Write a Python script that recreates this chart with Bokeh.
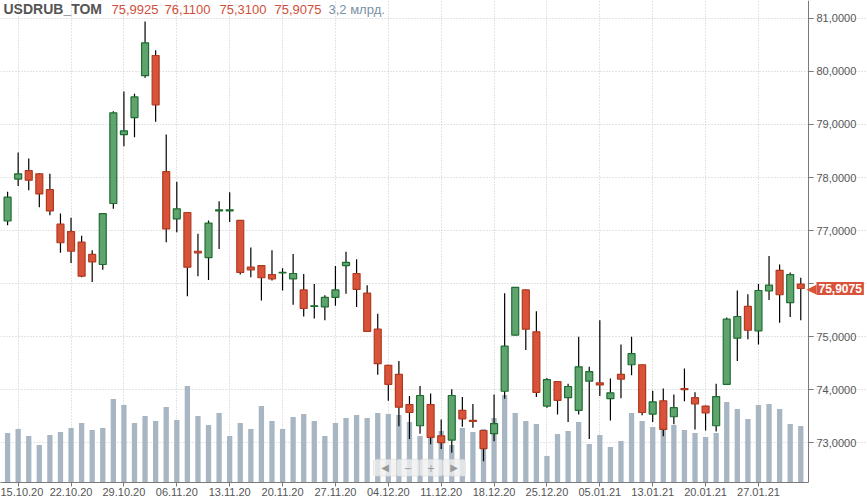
from bokeh.plotting import figure
from bokeh.models import (FixedTicker, Range1d, ColumnDataSource, Label,
                          BoxAnnotation)
from bokeh.embed import file_html
from bokeh.resources import INLINE

# ---------------- data ----------------
dates = ["14.10.20", "15.10.20", "16.10.20", "19.10.20", "20.10.20", "21.10.20",
         "22.10.20", "23.10.20", "26.10.20", "27.10.20", "28.10.20", "29.10.20",
         "30.10.20", "02.11.20", "03.11.20", "05.11.20", "06.11.20", "09.11.20",
         "10.11.20", "11.11.20", "12.11.20", "13.11.20", "16.11.20", "17.11.20",
         "18.11.20", "19.11.20", "20.11.20", "23.11.20", "24.11.20", "25.11.20",
         "26.11.20", "27.11.20", "30.11.20", "01.12.20", "02.12.20", "03.12.20",
         "04.12.20", "07.12.20", "08.12.20", "09.12.20", "10.12.20", "11.12.20",
         "14.12.20", "15.12.20", "16.12.20", "17.12.20", "18.12.20", "21.12.20",
         "22.12.20", "23.12.20", "24.12.20", "25.12.20", "28.12.20", "29.12.20",
         "30.12.20", "04.01.21", "05.01.21", "06.01.21", "08.01.21", "11.01.21",
         "12.01.21", "13.01.21", "14.01.21", "15.01.21", "18.01.21", "19.01.21",
         "20.01.21", "21.01.21", "22.01.21", "25.01.21", "26.01.21", "27.01.21",
         "28.01.21", "29.01.21", "01.02.21", "02.02.21"]

opens = [77.18, 77.97, 78.13, 78.07, 77.77, 77.12, 76.98, 76.78, 76.55, 76.36,
         77.51, 78.81, 79.13, 79.92, 80.30, 78.11, 77.22, 77.34, 76.61, 76.49,
         77.37, 77.37, 77.19, 76.31, 76.34, 76.17, 76.20, 76.09, 75.88, 75.57,
         75.56, 75.74, 76.34, 76.19, 75.82, 75.14, 74.46, 74.29, 73.72, 73.32,
         73.72, 73.13, 73.05, 73.61, 73.42, 73.23, 73.17, 73.97, 75.03, 75.88,
         75.09, 73.69, 74.15, 73.85, 73.61, 74.16, 74.13, 73.83, 74.29, 74.47,
         74.47, 73.54, 73.79, 73.49, 74.02, 73.85, 73.69, 73.32, 74.10, 74.97,
         75.57, 75.11, 75.86, 76.25, 75.64, 75.9925]
highs = [77.73, 78.47, 78.36, 78.08, 78.07, 77.32, 77.24, 76.90, 76.63, 77.32,
         79.25, 79.62, 79.58, 80.94, 80.40, 78.81, 77.92, 77.35, 76.94, 77.19,
         77.55, 77.72, 77.19, 76.68, 76.35, 76.63, 76.29, 76.56, 76.18, 75.99,
         75.78, 76.33, 76.60, 76.46, 75.97, 75.43, 74.47, 74.54, 73.88, 74.07,
         73.93, 73.44, 74.01, 73.86, 73.73, 73.24, 73.91, 75.82, 75.93, 75.89,
         75.48, 74.22, 74.16, 74.11, 75.00, 74.43, 75.31, 74.21, 74.85, 75.00,
         74.48, 73.98, 74.02, 73.91, 74.40, 73.95, 73.70, 74.11, 75.36, 75.87,
         75.80, 75.99, 76.52, 76.36, 76.21, 76.11]
lows = [77.10, 77.84, 77.76, 77.44, 77.29, 76.58, 76.39, 76.12, 76.03, 76.26,
        77.41, 78.59, 78.76, 79.88, 79.05, 76.78, 76.97, 75.76, 76.14, 76.07,
        76.65, 77.16, 76.17, 76.12, 75.68, 76.06, 75.87, 75.60, 75.38, 75.34,
        75.31, 75.58, 75.81, 75.56, 75.09, 74.28, 73.79, 73.31, 73.07, 73.17,
        72.97, 72.88, 72.81, 73.30, 73.28, 72.65, 73.03, 73.83, 75.02, 74.75,
        73.86, 73.66, 73.53, 73.39, 73.53, 73.07, 73.88, 73.42, 73.84, 74.27,
        73.52, 73.39, 73.12, 73.35, 73.78, 73.25, 73.23, 73.21, 74.09, 74.54,
        74.95, 74.85, 75.69, 75.26, 75.37, 75.31]
closes = [77.63, 78.07, 77.95, 77.69, 77.37, 76.77, 76.61, 76.14, 76.41, 77.32,
          79.22, 78.88, 79.52, 80.54, 79.37, 77.03, 77.41, 76.31, 76.58, 77.14,
          77.39, 77.39, 76.21, 76.26, 76.11, 76.09, 76.21, 76.19, 75.53, 75.58,
          75.74, 75.88, 76.40, 75.89, 75.10, 74.49, 74.10, 73.67, 73.57, 73.89,
          73.10, 73.00, 73.89, 73.45, 73.40, 72.89, 73.36, 74.82, 75.93, 75.14,
          73.95, 74.19, 73.80, 74.06, 74.43, 74.34, 74.09, 73.94, 74.20, 74.68,
          73.57, 73.77, 73.25, 73.66, 74.00, 73.73, 73.56, 73.87, 75.33, 75.38,
          75.12, 75.87, 75.97, 75.79, 76.17, 75.9075]
volumes_bn = [2.80, 3.03, 2.63, 2.12, 2.69, 2.86, 3.09, 3.37, 2.97, 3.09,
              4.73, 4.39, 3.37, 3.77, 3.48, 4.28, 3.54, 5.46, 3.77, 3.26,
              3.94, 2.63, 3.37, 3.03, 4.33, 3.48, 3.03, 3.71, 3.88, 3.48,
              2.63, 3.37, 3.65, 3.82, 3.65, 3.94, 3.88, 3.82, 3.43, 2.63,
              2.69, 2.92, 2.12, 3.09, 2.86, 3.03, 3.65, 4.95, 3.94, 3.48,
              3.31, 1.50, 2.75, 2.92, 3.43, 2.18, 2.69, 2.01, 2.35, 3.94,
              3.48, 3.14, 2.97, 3.26, 2.97, 2.80, 2.58, 2.80, 4.56, 4.16,
              3.60, 4.39, 4.45, 4.16, 3.31, 3.20]

price_ticks = [73, 74, 75, 76, 77, 78, 79, 80, 81]
# 76,0000 is hidden behind the last-price tag in the reference
price_tick_labels = ["73,0000", "74,0000", "75,0000", "", "77,0000",
                     "78,0000", "79,0000", "80,0000", "81,0000"]
date_tick_step = 5
date_tick_first = 1

instrument = "USDRUB_TOM"
last_open, last_high, last_low, last_close = "75,9925", "76,1100", "75,3100", "75,9075"
last_volume = "3,2 млрд."

# ---------------- derived ----------------
n = len(dates)
idx = list(range(n))
up = [c >= o for o, c in zip(opens, closes)]

def subset(flag):
    sel = [i for i in idx if up[i] == flag]
    return ColumnDataSource(dict(
        x=sel,
        top=[max(opens[i], closes[i]) for i in sel],
        bottom=[min(opens[i], closes[i]) for i in sel],
        high=[highs[i] for i in sel],
        low=[lows[i] for i in sel],
    ))

src_up = subset(True)
src_dn = subset(False)
src_vol = ColumnDataSource(dict(x=idx, vol=volumes_bn))

FONT = "Liberation Sans"
GREEN_FILL, GREEN_LINE = "#5fa36f", "#1f6e30"
RED_FILL, RED_LINE = "#d9533a", "#b03a20"
VOL_COLOR = "#a7b6c2"
AXIS_COLOR = "#7a7a7a"
TEXT_COLOR = "#555555"

# index-space layout: plot area spans the full width, price axis drawn at AXIS_X
X_START, X_END, AXIS_X = -0.67, 81.31, 75.73

p = figure(width=867, height=498, output_backend="svg", toolbar_location=None,
           x_range=Range1d(X_START, X_END), y_range=Range1d(72.25, 81.337),
           y_axis_location="right", min_border_left=0, min_border_top=0,
           min_border_right=0, min_border_bottom=0,
           background_fill_color="white", border_fill_color="white")
p.outline_line_color = None
p.extra_y_ranges = {"vol": Range1d(0, 27.3)}

# volumes
p.vbar(x="x", top="vol", bottom=0, width=0.5, source=src_vol,
       y_range_name="vol", fill_color=VOL_COLOR, line_color=None)

# wicks
for src in (src_up, src_dn):
    p.segment(x0="x", y0="low", x1="x", y1="high", source=src,
              line_color="black", line_width=1.2)

# bodies
p.vbar(x="x", top="top", bottom="bottom", width=0.66, source=src_up,
       fill_color=GREEN_FILL, line_color=GREEN_LINE, line_width=1.2)
p.vbar(x="x", top="top", bottom="bottom", width=0.66, source=src_dn,
       fill_color=RED_FILL, line_color=RED_LINE, line_width=1.2)

# axes
tick_idx = list(range(date_tick_first, n, date_tick_step))
p.xaxis.ticker = FixedTicker(ticks=tick_idx)
p.xaxis.major_label_overrides = {i: dates[i] for i in tick_idx}
p.xaxis.bounds = (X_START, AXIS_X)
p.yaxis.ticker = FixedTicker(ticks=price_ticks)
p.yaxis.major_label_overrides = dict(zip(price_ticks, price_tick_labels))
p.yaxis.fixed_location = AXIS_X

for ax in (p.xaxis[0], p.yaxis[0]):
    ax.axis_line_color = AXIS_COLOR
    ax.major_tick_line_color = AXIS_COLOR
    ax.major_tick_in = 0
    ax.major_tick_out = 4
    ax.minor_tick_line_color = None
    ax.major_label_text_font = FONT
    ax.major_label_text_font_size = "11px"
    ax.major_label_text_color = TEXT_COLOR
p.xaxis.major_label_standoff = 1
p.yaxis.major_label_standoff = 3
p.yaxis.major_tick_out = 5

for g in (p.xgrid[0], p.ygrid[0]):
    g.grid_line_color = "#c8c8c8"
    g.grid_line_dash = "1 2"
    g.grid_line_width = 1
p.ygrid.bounds = (X_START, AXIS_X)

# header
header = [
    (3, instrument, "#555555", "bold", "14px"),
    (111, last_open, "#cf4f3a", "normal", "13px"),
    (164, last_high, "#cf4f3a", "normal", "13px"),
    (219, last_low, "#cf4f3a", "normal", "13px"),
    (274, last_close, "#cf4f3a", "normal", "13px"),
    (328, last_volume, "#7b8fa5", "normal", "13px"),
]
for sx, txt, col, style, size in header:
    p.add_layout(Label(x=sx, x_units="screen", y=81.17, text=txt,
                       text_color=col, text_font=FONT, text_font_style=style,
                       text_font_size=size, text_baseline="middle"))

# last-price tag
p.add_layout(Label(x=AXIS_X, y=closes[-1], text="\u25C0",
                   x_offset=-2,
                   text_color=RED_FILL, text_font="DejaVu Sans",
                   text_font_size="13px", text_baseline="middle",
                   level="overlay"))
p.add_layout(Label(x=AXIS_X, y=closes[-1], text=last_close, x_offset=8,
                   text_color="white", text_font=FONT, text_font_style="bold",
                   text_font_size="12px", text_baseline="middle",
                   background_fill_color=RED_FILL, padding=2,
                   level="overlay"))

# navigation control
nav_edges = [373, 396, 419, 442, 465]
nav_syms = ["\u25C0", "\u2212", "+", "\u25B6"]
for k in range(len(nav_syms)):
    p.add_layout(BoxAnnotation(left=nav_edges[k], right=nav_edges[k + 1],
                               left_units="screen", right_units="screen",
                               top=72.69, bottom=72.37,
                               fill_color="#f0f0f0", fill_alpha=0.8,
                               line_color="#c4c4c4", line_width=1,
                               border_radius=2, level="annotation"))
for k, sym in enumerate(nav_syms):
    p.add_layout(Label(x=(nav_edges[k] + nav_edges[k + 1]) / 2, x_units="screen",
                       y=72.53, text=sym, text_align="center",
                       text_baseline="middle", text_color="#9a9a9a",
                       text_font="DejaVu Sans", text_font_size="10px",
                       level="overlay"))

open("out.html", "w").write(file_html(p, INLINE))
